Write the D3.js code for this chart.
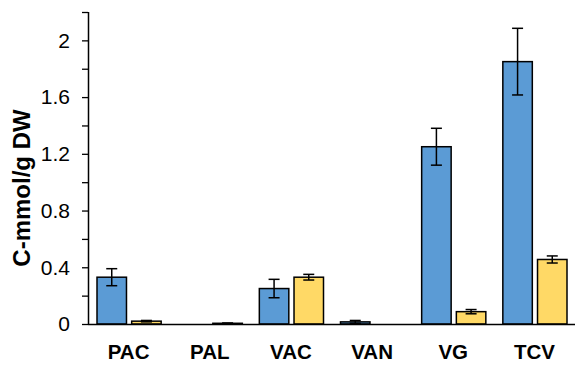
<!DOCTYPE html>
<html><head><meta charset="utf-8">
<script src="https://cdn.jsdelivr.net/npm/d3@7"></script>
<style>body{margin:0;background:#fff}svg{display:block}text{font-family:"Liberation Sans",Arial,sans-serif}</style>
</head><body><svg id="c" width="575" height="365"></svg>
<script>
const categories = ["PAC","PAL","VAC","VAN","VG","TCV"];
const seriesA = [0.33, 0.0, 0.25, 0.015, 1.25, 1.85];
const errA = [0.06, 0.0, 0.065, 0.01, 0.13, 0.235];
const seriesB = [0.02, 0.005, 0.33, 0.0, 0.087, 0.455];
const errB = [0.005, 0.002, 0.02, 0.0, 0.015, 0.025];
const yTicks = [0, 0.4, 0.8, 1.2, 1.6, 2];
const yMinor = [0.2, 0.6, 1.0, 1.4, 1.8, 2.2];

const svg = d3.select("#c");
const m = {l:88, r:0, t:12, b:41};
const W = 575, H = 365;
const x = d3.scaleBand().domain(categories).range([m.l, W - m.r]).paddingInner(0).paddingOuter(0);
const y = d3.scaleLinear().domain([0, 2.2]).range([H - m.b, m.t]);
const sub = d3.scaleBand().domain([0,1]).range([9, x.bandwidth() - 8]).paddingInner(0.15);

const data = categories.map((c,i)=>({c, v:[seriesA[i], seriesB[i]], e:[errA[i], errB[i]]}));
const colors = ["#5B9BD5", "#FFD966"];

const g = svg.append("g");
data.forEach(d => {
  [0,1].forEach(k => {
    const x0 = x(d.c) + sub(k);
    g.append("rect").attr("x", x0).attr("width", sub.bandwidth())
      .attr("y", y(d.v[k])).attr("height", y(0) - y(d.v[k]))
      .attr("fill", colors[k]).attr("stroke", "#000").attr("stroke-width", 1.5);
    if (d.e[k] > 0) {
      const cx = x0 + sub.bandwidth()/2;
      const y1 = y(d.v[k] + d.e[k]), y2 = y(Math.max(0, d.v[k] - d.e[k]));
      g.append("line").attr("x1", cx).attr("x2", cx).attr("y1", y1).attr("y2", y2).attr("stroke","#000").attr("stroke-width",1.5);
      [y1,y2].forEach(yy => g.append("line").attr("x1", cx-5.5).attr("x2", cx+5.5).attr("y1", yy).attr("y2", yy).attr("stroke","#000").attr("stroke-width",1.5));
    }
  });
});

// y axis
const ya = svg.append("g").attr("transform", `translate(${m.l},0)`)
  .call(d3.axisLeft(y).tickValues(yTicks).tickFormat(d3.format("~g")).tickSize(6).tickSizeOuter(0));
ya.attr("font-size", null).attr("font-family", null);
ya.select(".domain").attr("stroke","#000").attr("stroke-width",1.5).attr("d", `M0.5,${y(2.2)}V${y(0)}`);
ya.selectAll(".tick line").attr("stroke","#000").attr("stroke-width",1.3);
ya.selectAll(".tick text").attr("font-size", 21).attr("fill","#000").attr("x", -18);
svg.append("g").attr("transform", `translate(${m.l},0)`)
  .call(d3.axisLeft(y).tickValues(yMinor).tickFormat("").tickSize(6))
  .call(s => { s.select(".domain").remove(); s.selectAll("line").attr("stroke","#000").attr("stroke-width",1.3); });

// x axis
const xa = svg.append("g").attr("transform", `translate(0,${y(0)})`)
  .call(d3.axisBottom(x).tickSize(0).tickPadding(20));
xa.attr("font-size", null).attr("font-family", null);
xa.select(".domain").attr("stroke","#000").attr("stroke-width",1.5).attr("d", `M${m.l},0.5H${W}`);
xa.selectAll(".tick text").attr("font-size", 20.5).attr("font-weight","bold").attr("fill","#000");

svg.append("text").attr("transform", `translate(30,${(y(0)+y(2.2))/2 + 20}) rotate(-90)`)
  .attr("text-anchor","middle").attr("font-size", 24).attr("font-weight","bold").text("C-mmol/g DW");
</script></body></html>
